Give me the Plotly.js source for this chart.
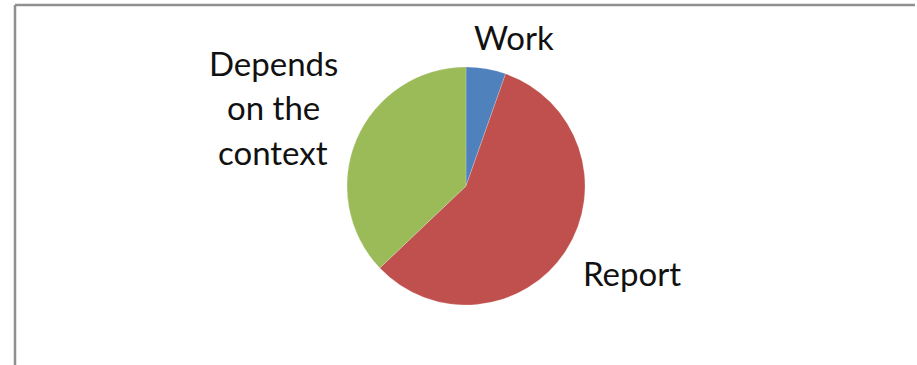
<!DOCTYPE html>
<html>
<head>
<meta charset="utf-8">
<script src="https://cdn.plot.ly/plotly-3.0.1.min.js"></script>
<style>html,body{margin:0;padding:0;background:#fff;}#chart{width:917px;height:365px;}</style>
</head>
<body>
<div id="chart"></div>
<script>
// Data
var categories = ["Work", "Report", "Depends on the context"];
var values = [5.4, 57.5, 37.1];
var colors = ["#4F81BD", "#C0504D", "#9BBB59"];
// label lines as drawn in the chart
var labelLines = [["Work"], ["Report"], ["Depends", "on the", "context"]];

var W = 917, H = 365;
var cx = 466, cy = 186, r = 119;

var trace = {
  type: "pie",
  labels: categories,
  values: values,
  sort: false,
  direction: "clockwise",
  rotation: 0,
  marker: {colors: colors, line: {color: "rgba(255,255,255,0.4)", width: 0.5}},
  textinfo: "none",
  hoverinfo: "label+percent",
  showlegend: false,
  domain: {
    x: [(cx - r) / W, (cx + r) / W],
    y: [(H - cy - r) / H, (H - cy + r) / H]
  }
};

// label anchor positions (pixels) for each category's text block
var labelPos = [
  {x: 514, y: [37]},
  {x: 632, y: [273]},
  {x: 273, y: [63, 107, 152]}
];

var annotations = [];
labelLines.forEach(function (lines, i) {
  lines.forEach(function (t, j) {
    annotations.push({
      text: t,
      xref: "paper", yref: "paper",
      x: labelPos[i].x / W,
      y: 1 - labelPos[i].y[j] / H,
      xanchor: "center", yanchor: "middle",
      showarrow: false,
      font: {family: "Lato, 'Open Sans', sans-serif", size: 33, color: "#111"}
    });
  });
});

var layout = {
  width: W, height: H,
  margin: {l: 0, r: 0, t: 0, b: 0},
  paper_bgcolor: "#fff",
  plot_bgcolor: "#fff",
  annotations: annotations,
  shapes: [
    {type: "line", xref: "paper", yref: "paper", x0: 15 / W, x1: 915 / W, y0: 1 - 5 / H, y1: 1 - 5 / H, line: {color: "#909090", width: 2.5}},
    {type: "line", xref: "paper", yref: "paper", x0: 15 / W, x1: 15 / W, y0: 1 - 5 / H, y1: 0, line: {color: "#909090", width: 2.5}}
  ]
};

Plotly.newPlot("chart", [trace], layout, {staticPlot: true, displayModeBar: false});
</script>
</body>
</html>
